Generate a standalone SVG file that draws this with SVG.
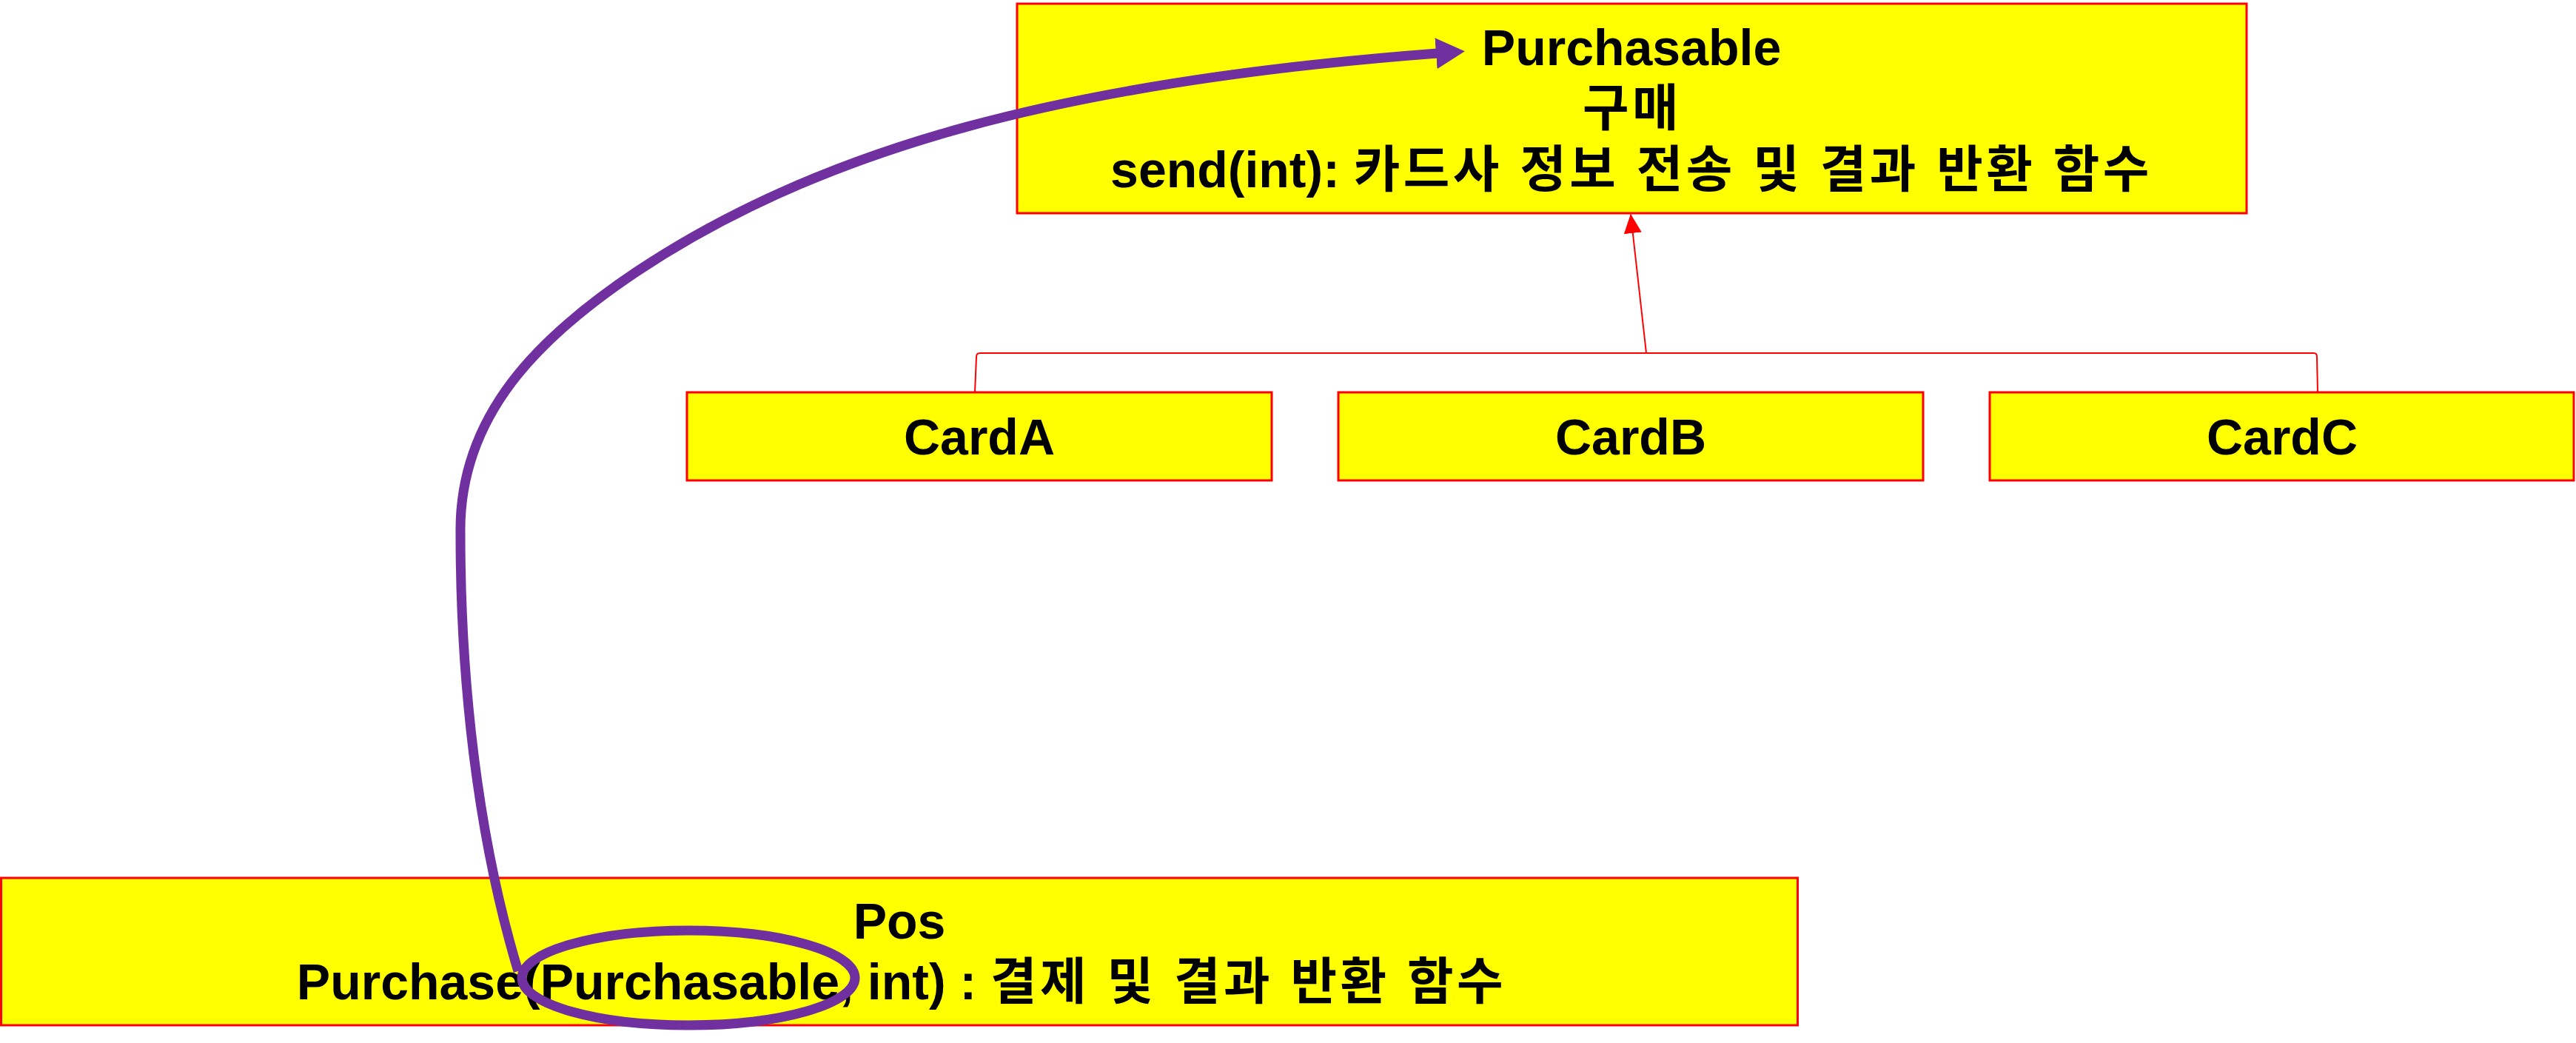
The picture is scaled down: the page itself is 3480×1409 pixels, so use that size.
<svg xmlns="http://www.w3.org/2000/svg" width="3480" height="1409" viewBox="0 0 3480 1409">
<style>
.box{fill:#FFFF00;stroke:#FF0000;stroke-width:3}
.t{font-family:"Liberation Sans","Noto Sans CJK KR",Arial,sans-serif;font-weight:bold;font-size:68px;fill:#000;text-anchor:middle}
.ko{letter-spacing:4.5px}
.red{fill:none;stroke:#FF0000;stroke-width:2}
.purple{fill:none;stroke:#7030A0;stroke-width:13}
</style>
<defs>
<marker id="redArrow" markerUnits="userSpaceOnUse" viewBox="0 0 26 24" refX="25" refY="12" markerWidth="26" markerHeight="24" orient="auto">
<path d="M0,0 L26,12 L0,24 z" fill="#FF0000"/>
</marker>
<marker id="purpleArrow" markerUnits="userSpaceOnUse" viewBox="0 0 40 42" refX="2" refY="21" markerWidth="40" markerHeight="42" orient="auto">
<path d="M0,0 L39,21 L0,42 z" fill="#7030A0"/>
</marker>
</defs>
<rect width="3480" height="1409" fill="#FFFFFF"/>
<g id="purchasable">
<rect class="box" x="1374" y="5" width="1661" height="283"/>
<text class="t" x="2204" y="88">Purchasable</text>
<text class="t" x="2205" y="170"><tspan class="ko">구매</tspan></text>
<text class="t" x="2204" y="253">send(int): <tspan class="ko">카드사 정보 전송 및 결과 반환 함수</tspan></text>
</g>
<g id="cardA">
<rect class="box" x="928" y="530" width="790" height="119"/>
<text class="t" x="1323" y="614">CardA</text>
</g>
<g id="cardB">
<rect class="box" x="1808" y="530" width="790" height="119"/>
<text class="t" x="2203" y="614">CardB</text>
</g>
<g id="cardC">
<rect class="box" x="2688" y="530" width="789" height="119"/>
<text class="t" x="3083" y="614">CardC</text>
</g>
<g id="pos">
<rect class="box" x="1.5" y="1186" width="2427" height="199"/>
<text class="t" x="1215" y="1268">Pos</text>
<text class="t" x="1218" y="1350">Purchase(Purchasable, int) : <tspan class="ko">결제 및 결과 반환 함수</tspan></text>
</g>
<g id="connectors">
<path class="red" d="M1317,530 L1319,482 Q1319,477 1324,477 L3126,477 Q3130,477 3130,482 L3131,530"/>
<path class="red" d="M2224,477 L2203,290" marker-end="url(#redArrow)"/>
<path class="purple" d="M700,1312 C645,1130 622,920 622,720 C620,560 730,454 860,367 C1110,200 1440,110 1942,72" marker-end="url(#purpleArrow)"/>
</g>
<g id="highlight">
<ellipse cx="930" cy="1321" rx="225" ry="64" fill="none" stroke="#7030A0" stroke-width="13"/>
</g>
</svg>
